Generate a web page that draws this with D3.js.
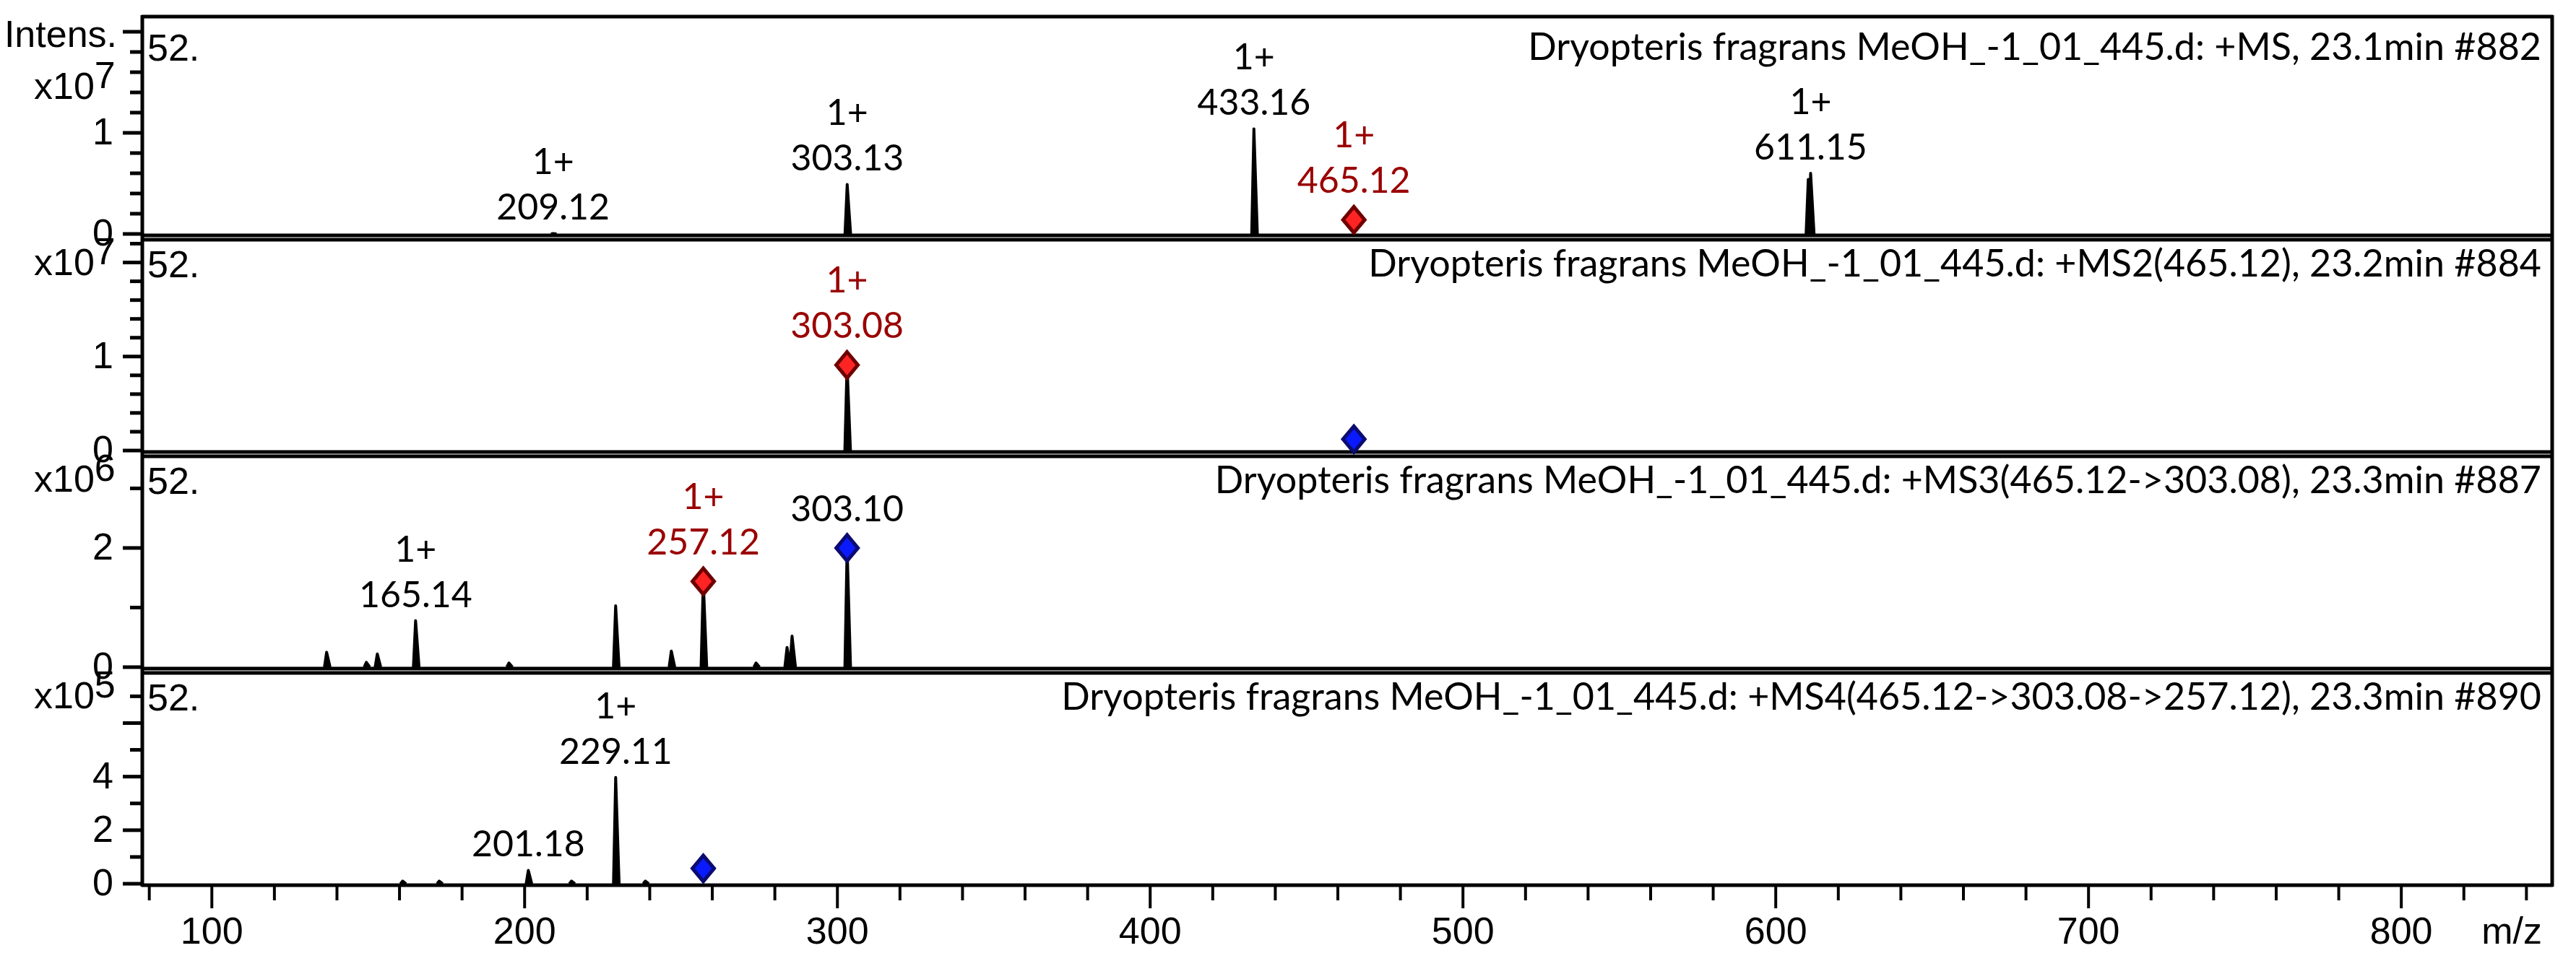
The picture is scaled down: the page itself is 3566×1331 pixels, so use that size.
<!DOCTYPE html>
<html>
<head>
<meta charset="utf-8">
<script src="https://cdn.jsdelivr.net/npm/d3@7"></script>
<style>
  body { margin: 0; background: #fff; }
  .tick-label { font-family: "Liberation Sans", Arial, sans-serif; font-size: 52px; fill: #000; }
  .anno { font-family: Lato, "Open Sans", sans-serif; font-size: 50px; }
  .title { font-family: Lato, "Open Sans", sans-serif; font-size: 52px; }
</style>
</head>
<body>
<svg id="chart" width="3566" height="1331"></svg>
<script>
// spectra titles (one per panel)
const panelTitles = [
  "Dryopteris fragrans MeOH_-1_01_445.d: +MS, 23.1min #882",
  "Dryopteris fragrans MeOH_-1_01_445.d: +MS2(465.12), 23.2min #884",
  "Dryopteris fragrans MeOH_-1_01_445.d: +MS3(465.12->303.08), 23.3min #887",
  "Dryopteris fragrans MeOH_-1_01_445.d: +MS4(465.12->303.08->257.12), 23.3min #890"
];

// y axes: top of range, exponent, ticks (in units of 10^exp)
const yMax = [2.15, 2.25, 3.55, 7.9];
const yExponent = [7, 7, 6, 5];
const yMajor = [[0, 1, 2], [0, 1, 2], [0, 2], [0, 2, 4, 6]];
const yMinorStep = [0.2, 0.2, 1, 1];
const yLabels = [[0, 1], [0, 1], [0, 2], [0, 2, 4]];

// x axis
const mzDomain = [78, 848];
const xMajor = [100, 200, 300, 400, 500, 600, 700, 800];

// peaks per panel: m/z and intensity
const specMz = [
  [209.12, 303.13, 433.16, 610.4, 611.15],
  [303.08],
  [136.7, 149.4, 152.9, 165.14, 195.0, 229.1, 246.9, 257.12, 274.0, 283.9, 285.5, 303.10],
  [161.0, 172.7, 201.18, 215.0, 229.11, 238.6]
];
const specInt = [
  [0.004, 0.49, 1.04, 0.54, 0.60],
  [0.91],
  [0.25, 0.08, 0.22, 0.78, 0.07, 1.03, 0.27, 1.44, 0.07, 0.33, 0.52, 2.0],
  [0.1, 0.1, 0.5, 0.1, 3.97, 0.1]
];

// diamond markers: red = selected ion, blue = precursor
const markerPanel = [0, 1, 1, 2, 2, 3];
const markerMz = [465.12, 303.08, 465.12, 257.12, 303.10, 257.12];
const markerInt = [0.14, 0.91, 0.12, 1.44, 2.0, 0.57];
const markerKind = ["sel", "sel", "prec", "sel", "prec", "prec"];

// peak labels
const labelPanel = [0, 0, 0, 0, 0, 1, 2, 2, 2, 3, 3];
const labelMz = [209.12, 303.13, 433.16, 465.12, 611.15, 303.08, 165.14, 257.12, 303.10, 201.18, 229.11];
const labelInt = [0.004, 0.49, 1.04, 0.14, 0.60, 0.91, 0.78, 1.44, 2.0, 0.5, 3.97];
const labelCharge = ["1+", "1+", "1+", "1+", "1+", "1+", "1+", "1+", "", "", "1+"];
const labelRed = [false, false, false, true, false, true, false, true, false, false, false];
const labelOnMarker = [false, false, false, true, false, true, false, true, true, false, false];

// layout
const svg = d3.select("#chart");
const left = 198, right = 3532;
const zeroY = [324, 624, 924, 1224];
const topY = [23, 331, 631, 931];
const RED_TEXT = "#9a0000";

const x = d3.scaleLinear().domain(mzDomain).range([left, right]);
const yScales = yMax.map((m, i) => d3.scaleLinear().domain([0, m]).range([zeroY[i], topY[i]]));

const peakLine = (ys) => d3.line().x(d => x(d[0])).y(d => ys(d[1]));

const gPeaks = svg.append("g");
const gFrame = svg.append("g");
const gText = svg.append("g");

yScales.forEach((ys, p) => {
  // peaks
  specMz[p].forEach((mz, k) => {
    const h = specInt[p][k];
    gPeaks.append("path")
      .attr("d", peakLine(ys)([[mz - 0.7, 0], [mz, h], [mz + 1.1, 0]]))
      .attr("fill", "#000").attr("stroke", "#000")
      .attr("stroke-width", 4).attr("stroke-linejoin", "round");
  });

  // frame: top border, bottom border
  gFrame.append("line")
    .attr("x1", left - 2).attr("x2", right + 2)
    .attr("y1", p === 0 ? topY[p] : topY[p] + 1).attr("y2", p === 0 ? topY[p] : topY[p] + 1)
    .attr("stroke", "#000").attr("stroke-width", 5);
  gFrame.append("line")
    .attr("x1", left - 2).attr("x2", right + 2)
    .attr("y1", zeroY[p] + 2).attr("y2", zeroY[p] + 2)
    .attr("stroke", "#000").attr("stroke-width", 5);

  // y ticks
  const minor = d3.range(0, yMax[p] + 1e-9, yMinorStep[p]);
  minor.forEach(v => {
    const isMajor = yMajor[p].some(m => Math.abs(m - v) < 1e-6);
    gFrame.append("line")
      .attr("x1", isMajor ? 170 : 180).attr("x2", left)
      .attr("y1", ys(v)).attr("y2", ys(v))
      .attr("stroke", "#000").attr("stroke-width", 5);
  });
  yLabels[p].forEach(v => {
    gText.append("text").attr("class", "tick-label")
      .attr("x", 157).attr("y", ys(v) + 16)
      .attr("text-anchor", "end").text(v);
  });

  // exponent label
  const expY = p === 0 ? zeroY[p] - 187 : zeroY[p] - 243;
  const ex = gText.append("text").attr("class", "tick-label")
    .attr("x", 47).attr("y", expY);
  ex.append("tspan").text("x10");
  ex.append("tspan").attr("dy", -15).text(yExponent[p]);

  // "52." and title
  gText.append("text").attr("class", "tick-label")
    .attr("x", 204).attr("y", zeroY[p] - 240).text("52.");
  gText.append("text").attr("class", "title")
    .attr("x", 3518).attr("y", zeroY[p] - 241)
    .attr("text-anchor", "end").attr("fill", "#000")
    .text(panelTitles[p]);
});

// left axis and right border
gFrame.append("line")
  .attr("x1", left - 1).attr("x2", left - 1)
  .attr("y1", topY[0] - 2).attr("y2", zeroY[3] + 4)
  .attr("stroke", "#000").attr("stroke-width", 5);
gFrame.append("line")
  .attr("x1", right + 1).attr("x2", right + 1)
  .attr("y1", topY[0] - 2).attr("y2", zeroY[3] + 4)
  .attr("stroke", "#000").attr("stroke-width", 5);

gText.append("text").attr("class", "tick-label")
  .attr("x", 162).attr("y", 65).attr("text-anchor", "end").text("Intens.");

// x axis ticks
const xBase = zeroY[3] + 4;
d3.range(80, 848, 20).forEach(v => {
  const isMajor = xMajor.includes(v);
  gFrame.append("line")
    .attr("x1", x(v)).attr("x2", x(v))
    .attr("y1", xBase).attr("y2", xBase + (isMajor ? 30 : 19))
    .attr("stroke", "#000").attr("stroke-width", 4);
});
xMajor.forEach(v => {
  gText.append("text").attr("class", "tick-label")
    .attr("x", x(v)).attr("y", 1307).attr("text-anchor", "middle").text(v);
});
gText.append("text").attr("class", "tick-label")
  .attr("x", 3519).attr("y", 1307).attr("text-anchor", "end").text("m/z");

// diamonds
const diamond = "M0,-18 L15,0 L0,18 L-15,0 Z";
markerMz.forEach((mz, k) => {
  const ys = yScales[markerPanel[k]];
  const sel = markerKind[k] === "sel";
  svg.append("path")
    .attr("d", diamond)
    .attr("transform", `translate(${x(mz)},${ys(markerInt[k])})`)
    .attr("fill", sel ? "#ff2424" : "#0a1aff")
    .attr("stroke", sel ? "#6e0000" : "#0b0b70")
    .attr("stroke-width", 5).attr("stroke-linejoin", "miter");
});

// peak labels
labelMz.forEach((mz, k) => {
  const ys = yScales[labelPanel[k]];
  const yBase = ys(labelInt[k]) - (labelOnMarker[k] ? 37 : 19);
  const col = labelRed[k] ? RED_TEXT : "#000";
  gText.append("text").attr("class", "anno")
    .attr("x", x(mz)).attr("y", yBase).attr("text-anchor", "middle")
    .attr("fill", col).text(mz.toFixed(2));
  if (labelCharge[k]) {
    gText.append("text").attr("class", "anno")
      .attr("x", x(mz)).attr("y", yBase - 63).attr("text-anchor", "middle")
      .attr("fill", col).text(labelCharge[k]);
  }
});
</script>
</body>
</html>
